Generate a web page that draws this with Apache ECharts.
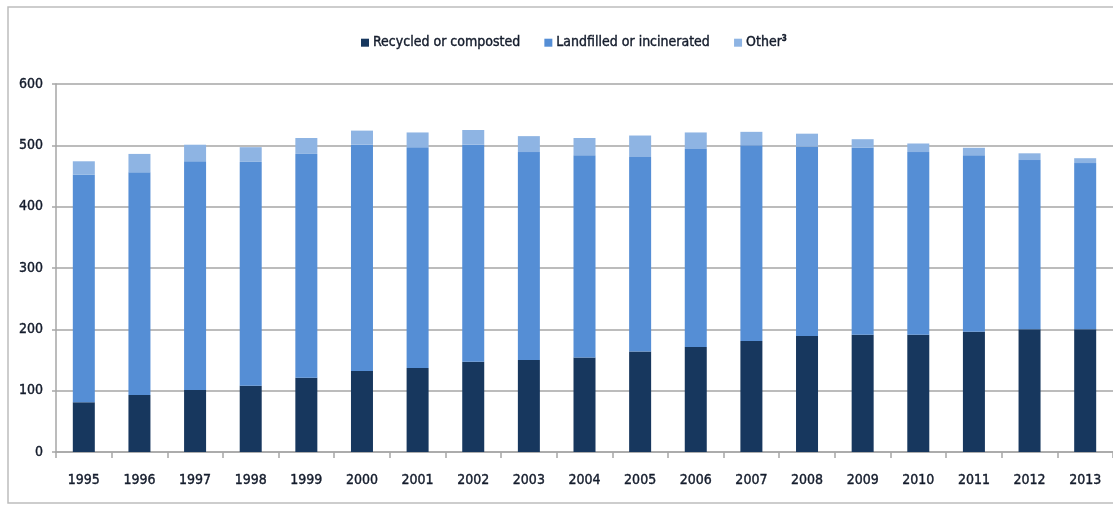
<!DOCTYPE html>
<html>
<head>
<meta charset="utf-8">
<script src="https://cdn.jsdelivr.net/npm/echarts@6/dist/echarts.min.js"></script>
<style>
  html, body { margin: 0; padding: 0; background: #ffffff; }
  #chart { width: 1113px; height: 505px; }
</style>
</head>
<body>
<div id="chart"></div>
<script>
// Household waste by destination, 1995-2013
const years = ['1995','1996','1997','1998','1999','2000','2001','2002','2003','2004',
               '2005','2006','2007','2008','2009','2010','2011','2012','2013'];
const recycled = [81, 93, 101, 108, 121, 132, 137, 147, 150, 154, 164, 171, 181, 189, 191, 191, 196, 200, 200];
const landfilled = [371, 363, 373, 365, 365, 369, 360, 354, 339, 330, 317, 323, 319, 309, 305, 298, 288, 276, 271];
const other = [22, 30, 27, 24, 26, 23, 24, 24, 26, 28, 35, 27, 22, 21, 14, 14, 12, 11, 8];
const yTicks = [0, 100, 200, 300, 400, 500, 600];

const FONT = '"DejaVu Sans Condensed", sans-serif';
const TEXT = '#141c2c';

// slightly heavier glyphs for the labels
const heavy = { textBorderColor: TEXT, textBorderWidth: 0.4 };

const chart = echarts.init(document.getElementById('chart'), null, { renderer: 'canvas' });

chart.setOption({
  animation: false,
  backgroundColor: '#ffffff',
  graphic: [{
    type: 'rect',
    shape: { x: 8, y: 7, width: 1300, height: 496 },
    style: { fill: 'none', stroke: '#bdbdbd', lineWidth: 1.5 },
    silent: true,
    z: -1
  }],
  legend: {
    top: 30,
    left: 356,
    itemWidth: 8,
    itemHeight: 8,
    itemGap: 24,
    icon: 'rect',
    textStyle: Object.assign({
      fontFamily: FONT,
      fontSize: 14,
      color: TEXT,
      padding: [0, 0, 0, -1],
      rich: {
        sup: { fontFamily: FONT, fontSize: 8, fontWeight: 'bold', color: TEXT, verticalAlign: 'top', padding: [0, 0, 7, 0] }
      }
    }, heavy),
    formatter: function (name) {
      return name === 'Other' ? 'Other{sup|3}' : name;
    },
    data: ['Recycled or composted', 'Landfilled or incinerated', 'Other']
  },
  grid: { left: 56, right: -4, top: 84, bottom: 53, containLabel: false },
  xAxis: {
    type: 'category',
    data: years,
    axisLine: { show: true, lineStyle: { color: '#a6a6a6', width: 1.5 } },
    axisTick: { show: true, length: 6, lineStyle: { color: '#a6a6a6', width: 1.5 } },
    axisLabel: Object.assign({ fontFamily: FONT, fontSize: 14, color: TEXT, margin: 21 }, heavy)
  },
  yAxis: {
    type: 'value',
    min: yTicks[0],
    max: yTicks[yTicks.length - 1],
    interval: 100,
    axisLine: { show: true, lineStyle: { color: '#a6a6a6', width: 1.5 } },
    axisTick: { show: true, inside: false, length: 4, lineStyle: { color: '#a6a6a6', width: 1.5 } },
    splitLine: { show: true, lineStyle: { color: '#a6a6a6', width: 1.5 } },
    axisLabel: Object.assign({ fontFamily: FONT, fontSize: 14, color: TEXT, margin: 13 }, heavy)
  },
  series: [
    {
      name: 'Recycled or composted',
      type: 'bar',
      stack: 'waste',
      barWidth: 22,
      itemStyle: { color: '#17375e' },
      data: recycled
    },
    {
      name: 'Landfilled or incinerated',
      type: 'bar',
      stack: 'waste',
      barWidth: 22,
      itemStyle: { color: '#558ed5' },
      data: landfilled
    },
    {
      name: 'Other',
      type: 'bar',
      stack: 'waste',
      barWidth: 22,
      itemStyle: { color: '#8eb4e3' },
      data: other
    }
  ]
});
</script>
</body>
</html>
